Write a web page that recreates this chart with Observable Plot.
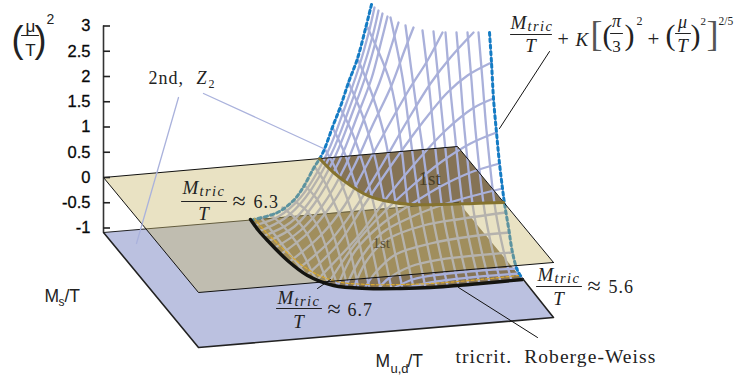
<!DOCTYPE html>
<html><head><meta charset="utf-8">
<script src="https://cdn.jsdelivr.net/npm/d3@7"></script>
<script src="https://cdn.jsdelivr.net/npm/@observablehq/plot@0.6"></script>
<style>html,body{margin:0;padding:0;background:#fff}svg{display:block}
.wide text{letter-spacing:.055em}.wider text{letter-spacing:.1em}
g[aria-label="y-axis tick label"] text{stroke:#222;stroke-width:.3px}
</style>
</head><body><div id="c"></div>
<script>
const zTicks = [-1, -0.5, 0, 0.5, 1, 1.5, 2, 2.5, 3];
const zTickLabels = ["-1", "-0.5", "0", "0.5", "1", "1.5", "2", "2.5", "3"];
const lowerPlane = [[103,232],[198,347],[553,317],[458,202]];
const upperPlane = [[103,177],[198,292],[553,262],[457,146]];
const blackCurve = [[250,219],[258,230],[267,240],[287,260],[307,275],[333,285],[367,288],[400,288],[430,287],[480,283],[522,279]];
const goldCurve = [[254,218],[263,229],[272,238],[292,257],[311,271],[336,281],[368,284],[400,284],[430,283],[480,279],[518,275]];
const oliveCurve = [[319,158],[333,172],[350,185],[367,195],[383,200],[410,204],[440,204],[473,203],[503,202]];
const leftEdge = [[371,4],[365,28],[357,58],[348,82],[340,106],[333,124],[322,153],[313,168],[302,188],[293,200],[277,212],[253,219]];
const rightEdge = [[489,32],[491,62],[493,98],[496,132],[499,163],[502,188],[504,203],[508,227],[512,252],[517,270],[522,278]];
const meshP = [
 [[478,32],[482,80],[486,130],[495,210],[503,250],[511,280]],
 [[467,32],[471,80],[475,130],[484,210],[492,250],[500,281]],
 [[456,32],[460,80],[464,130],[473,210],[481,250],[489,282]],
 [[445,32],[449,80],[454,130],[463,210],[471,250],[479,283]],
 [[433,31],[438,80],[443,130],[452,210],[460,250],[468,284]],
 [[422,30],[428,80],[433,130],[442,210],[450,250],[458,285]],
 [[405,25],[415,100],[421,140],[431,210],[439,250],[447,285]],
 [[390,17],[402,77],[409,130],[420,210],[428,250],[436,286]],
 [[367,27],[390,83],[400,140],[408,207],[416,245],[425,287]],
 [[357,58],[372,95],[385,140],[396,207],[405,250],[413,287]],
 [[348,82],[362,115],[374,155],[385,207],[394,250],[402,288]],
 [[340,108],[352,133],[363,165],[374,207],[383,250],[391,288]],
 [[332,127],[343,150],[352,175],[363,210],[372,250],[380,288]],
 [[324,148],[334,166],[343,188],[352,214],[361,252],[369,288]],
 [[314,166],[325,183],[334,203],[342,222],[351,256],[358,288]],
 [[304,185],[316,198],[325,215],[333,235],[341,262],[347,287]],
 [[293,200],[306,210],[317,225],[325,245],[332,270],[337,285]],
 [[282,207],[296,219],[307,234],[316,254],[323,272],[328,283]],
 [[270,214],[283,226],[296,242],[306,260],[314,276],[318,280]],
 [[260,217],[271,230],[284,247],[296,262],[306,275]]
];
const meshQ = [
 [[374,7],[368,33],[358,68],[344,108],[327,152],[300,197],[278,216],[254,225]],
 [[378,10],[372,36],[362,70],[348,110],[331,153],[305,197],[284,218],[258,231]],
 [[382,13],[376,38],[366,73],[352,112],[335,155],[310,200],[290,222],[262,236]],
 [[387,16],[381,40],[371,78],[357,115],[339,160],[314,203],[294,226],[267,241]],
 [[398,22],[391,45],[379,82],[363,120],[345,165],[322,205],[300,230],[273,248]],
 [[413,27],[404,50],[391,85],[372,125],[353,167],[332,203],[308,232],[280,254]],
 [[442,32],[427,60],[408,90],[388,125],[366,165],[344,205],[320,235],[288,262]],
 [[473,32],[450,57],[430,83],[407,120],[381,165],[355,207],[330,240],[297,269]],
 [[491,62],[467,75],[447,92],[422,122],[392,163],[362,207],[338,243],[306,275]],
 [[493,98],[472,108],[445,130],[417,160],[388,195],[360,233],[316,280]],
 [[496,132],[470,143],[440,162],[412,185],[383,212],[355,243],[327,284]],
 [[499,163],[470,172],[440,186],[412,203],[382,223],[355,250],[337,286]],
 [[502,188],[470,196],[440,205],[412,216],[382,232],[360,258],[345,287]],
 [[505,212],[463,218],[423,225],[385,240],[365,262],[353,288]],
 [[509,232],[470,236],[430,243],[395,254],[375,272],[364,288]],
 [[512,252],[475,255],[440,259],[410,266],[388,278],[378,288]],
 [[517,268],[480,270],[440,274],[412,279],[393,288]],
 [[519,273],[470,277],[430,282],[405,288]]
];
const leaders = [
 {c:"#aab2dc", p:[[178,97],[136,243]]},
 {c:"#aab2dc", p:[[203,93],[323,148]]},
 {c:"#111", p:[[549,51],[499,128]]},
 {c:"#111", p:[[458,287],[537,337]]},
 {c:"#111", p:[[317,288],[330,279]]}
];
const fractionBars = [[[510,551],34],[[610,622],33],[[675,690],33],[[181,226],201],[[276,321],308],[[536,581],286]];

// view-to-chart conversion: the vertical scale of the chart is (μ/T)²
const unit = 50.5, zero = 177;
const mu2 = d => (zero - d) / unit;
const pts = (arr) => arr.map(([a, b]) => ({a, m: mu2(b)}));
const rows = (lines) => lines.flatMap((l, i) => l.map(([a, b]) => ({line: i, a, m: mu2(b)})));

const serif = "Liberation Serif", sans = "Liberation Sans";
const T = (s, a, b, o = {}) => Plot.text([s], {x: () => a, y: () => mu2(b), text: d => d, lineAnchor: "bottom",
  textAnchor: o.anchor || "start", fontSize: o.size || 18, fontFamily: o.font || serif,
  fontStyle: o.style || "normal", fill: o.fill || "#222", className: o.cls});
const filled = (p, fill, fillOpacity = 1) =>
  Plot.line(pts([...p, p[0]]), {x: "a", y: "m", fill, fillOpacity, stroke: "none", curve: "linear"});
const curve = (p, o) => Plot.line(pts(p), {x: "a", y: "m", curve: "catmull-rom", ...o});
const meshStyle = {x: "a", y: "m", z: "line", stroke: "#a9b0da", strokeWidth: 2.3, curve: "catmull-rom"};

const brownLow = [...blackCurve, [458,202]];
const brownUp = [...oliveCurve, [457,146]];
const overlay = [[103,177],[198,292],[553,262],[503,202],...oliveCurve.slice().reverse()];

const frac = (a, b) => [
  T("M", a, b, {style: "italic", size: 19}),
  T("tric", a + 17, b + 2, {style: "italic", size: 14.5, cls: "wider"}),
];
const marks = [
  filled(lowerPlane, "#bbc1e0", 1),
  filled(brownLow, "#857355"),
  filled(brownUp, "#857355"),
  Plot.line(pts([[103,232],[458,202]]), {x: "a", y: "m", stroke: "#222", strokeWidth: 1}),
  Plot.line(rows(meshP), meshStyle),
  Plot.line(rows(meshQ), meshStyle),
  curve(leftEdge, {stroke: "#a9b0da", strokeWidth: 1.6}),
  curve(rightEdge, {stroke: "#a9b0da", strokeWidth: 1.6}),
  curve(leftEdge, {stroke: "#147cc4", strokeWidth: 3, strokeDasharray: "3 3.4"}),
  curve(rightEdge, {stroke: "#147cc4", strokeWidth: 3, strokeDasharray: "3 3.4"}),
  filled(overlay, "#c8b669", 0.4),
  curve(goldCurve, {stroke: "#d9a92f", strokeWidth: 1.2, strokeDasharray: "3 2"}),
  curve(blackCurve, {stroke: "#141410", strokeWidth: 3.4}),
  Plot.line(pts(upperPlane.slice(0,3)), {x: "a", y: "m", stroke: "#111", strokeWidth: 1}),
  Plot.line(pts([[553,262],[457,146],[103,177]]), {x: "a", y: "m", stroke: "#111", strokeWidth: 1}),
  curve(oliveCurve, {stroke: "#85732f", strokeWidth: 3}),
  Plot.line(pts([[103,232],[198,347],[553,317],[522,278]]), {x: "a", y: "m", stroke: "#222", strokeWidth: 1.6}),
  T("1st", 372, 247, {size: 15, fill: "#5a4f35"}),
  T("1st", 418, 184, {size: 19, fill: "#4a3f28"}),
  ...leaders.map(l => Plot.line(pts(l.p), {x: "a", y: "m", stroke: l.c, strokeWidth: l.c === "#111" ? 1 : 1.3})),
  // vertical axis
  Plot.ruleX([103], {y1: mu2(232), y2: 3, stroke: "#333", strokeWidth: 1.6}),
  Plot.axisY(zTicks, {anchor: "left", tickSize: -7, tickPadding: 20, tickFormat: d => zTickLabels[zTicks.indexOf(d)],
    label: null, fontSize: 16.5, fontFamily: sans, stroke: "#222", strokeWidth: 1.6}),
  // μ²/T² title
  T("(", 11, 51, {font: sans, size: 36}),
  T(")", 34, 51, {font: sans, size: 36}),
  T("μ", 30, 31, {font: sans, size: 17, anchor: "middle"}),
  T("T", 30, 55, {font: sans, size: 17, anchor: "middle"}),
  T("2", 46, 23, {font: sans, size: 14}),
  Plot.line(pts([[21,35],[38,35]]), {x: "a", y: "m", stroke: "#222", strokeWidth: 1}),
  // axis titles
  T("M", 44, 301, {font: sans, size: 17.5}),
  T("s", 58, 305, {font: sans, size: 12}),
  T("/T", 64, 301, {font: sans, size: 17.5}),
  T("M", 375, 366, {font: sans, size: 17.5}),
  T("u,d", 390, 372, {font: sans, size: 13}),
  T("/T", 407, 366, {font: sans, size: 17.5}),
  // annotations
  T("2nd,", 148, 83, {size: 18, cls: "wide"}),
  T("Z", 196, 83, {style: "italic", size: 18}),
  T("2", 208, 87, {size: 12}),
  T("tricrit.  Roberge-Weiss", 455, 362, {size: 19.5, cls: "wide"}),
  // fraction bars
  ...fractionBars.map(([[a, b], y]) => Plot.line(pts([[a, y], [b, y]]), {x: "a", y: "m", stroke: "#222", strokeWidth: 1})),
  ...frac(510, 28), T("T", 530, 51, {style: "italic", size: 19, anchor: "middle"}),
  T("+", 557, 45, {size: 20}), T("K", 575, 45, {style: "italic", size: 19}),
  T("[", 590, 45, {size: 36, fill: "#555"}), T("(", 602, 44, {size: 30}),
  T("π", 616, 26, {style: "italic", size: 18, anchor: "middle"}), T("3", 616, 51, {size: 17, anchor: "middle"}),
  T(")", 624, 44, {size: 30}), T("2", 636, 24, {size: 12}),
  T("+", 647, 45, {size: 21}), T("(", 665, 44, {size: 30}),
  T("μ", 682, 27, {style: "italic", size: 18, anchor: "middle"}), T("T", 682, 51, {style: "italic", size: 19, anchor: "middle"}),
  T(")", 690, 44, {size: 30}), T("2", 700, 24, {size: 11}),
  T("]", 706, 45, {size: 36, fill: "#555"}), T("2/5", 718, 24, {size: 11.5}),
  ...frac(182, 193), T("T", 203, 219, {style: "italic", size: 19, anchor: "middle"}),
  T("≈", 232, 208, {size: 24}), T("6.3", 253, 207, {size: 18, cls: "wide"}),
  ...frac(277, 303), T("T", 298, 327, {style: "italic", size: 19, anchor: "middle"}),
  T("≈", 327, 316, {size: 24}), T("6.7", 347, 315, {size: 18, cls: "wide"}),
  ...frac(537, 280), T("T", 558, 304, {style: "italic", size: 19, anchor: "middle"}),
  T("≈", 587, 293, {size: 24}), T("5.6", 608, 292, {size: 18, cls: "wide"})
];
const chart = Plot.plot({
  width: 735, height: 376, marginLeft: 103, marginRight: 0, marginTop: 0, marginBottom: 0,
  x: {domain: [103, 735], axis: null},
  y: {domain: [mu2(376), mu2(0)], axis: null},
  style: {background: "#fff", overflow: "visible"},
  marks
});
document.getElementById("c").append(chart);
</script></body></html>
